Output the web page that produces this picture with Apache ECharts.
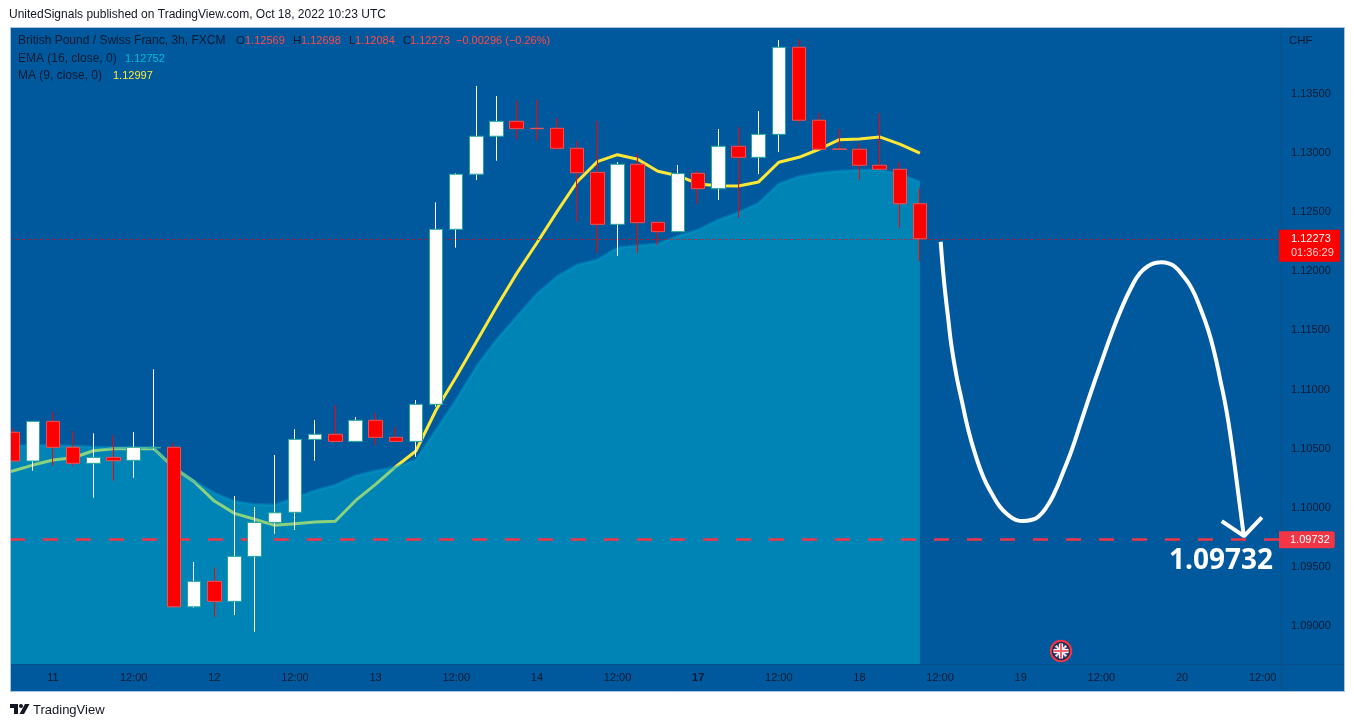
<!DOCTYPE html>
<html><head><meta charset="utf-8">
<style>html,body{margin:0;padding:0;background:#fff}#c{width:1354px;height:727px}</style>
<script src="https://cdn.jsdelivr.net/npm/echarts@6/dist/echarts.min.js"></script>
</head><body><div id="c"></div>
<script>
// ---- data ----
const opens = [1.10639,1.10396,1.10731,1.10512,1.10377,1.10427,1.10402,1.10506,1.10512,1.09165,1.0938,1.09211,1.09591,1.09878,1.09963,1.10579,1.10622,1.10562,1.1074,1.10596,1.10562,1.10875,1.12353,1.12818,1.13139,1.13265,1.13206,1.13206,1.13037,1.12834,1.12395,1.12902,1.12412,1.12333,1.12826,1.12696,1.13054,1.12961,1.13155,1.1389,1.13274,1.13031,1.13029,1.12894,1.1286,1.12569];
const closes = [1.10396,1.10731,1.10512,1.10377,1.10427,1.10399,1.10512,1.10512,1.09165,1.0938,1.09211,1.09591,1.09878,1.09959,1.10579,1.10622,1.10562,1.1074,1.10596,1.10562,1.10875,1.12353,1.12818,1.13139,1.13265,1.13203,1.13203,1.13037,1.12831,1.12395,1.12902,1.12409,1.12333,1.12823,1.12696,1.13054,1.12961,1.13155,1.1389,1.13274,1.13029,1.13029,1.12894,1.1286,1.12569,1.12273];
const lows = [1.10396,1.10314,1.10356,1.10356,1.10086,1.1023,1.10255,1.10489,1.09165,1.09157,1.09079,1.09095,1.08954,1.09782,1.09813,1.10399,1.10551,1.10562,1.10531,1.10562,1.10432,1.10855,1.12198,1.12769,1.12932,1.13116,1.13101,1.13023,1.12417,1.12155,1.12128,1.12155,1.1222,1.12333,1.12569,1.126,1.12451,1.1282,1.13006,1.13248,1.13029,1.13023,1.12772,1.1286,1.12367,1.12084];
const highs = [1.10672,1.10731,1.10812,1.10649,1.1063,1.10613,1.10641,1.11171,1.10546,1.09543,1.09498,1.101,1.10008,1.10447,1.10666,1.10742,1.10867,1.10768,1.10802,1.10681,1.10911,1.12581,1.12826,1.13563,1.13479,1.13437,1.13445,1.13291,1.13099,1.13268,1.12921,1.12989,1.12421,1.12896,1.12845,1.132,1.13217,1.13352,1.13952,1.13958,1.13333,1.13198,1.13079,1.13333,1.12921,1.12698];
const emaValues = [1.1052,1.10523,1.10527,1.10527,1.10523,1.10514,1.1051,1.1051,1.1051,1.10345,1.10227,1.10126,1.10054,1.1003,1.10025,1.10084,1.10145,1.10193,1.10269,1.10312,1.10343,1.10405,1.10658,1.10911,1.11193,1.11418,1.11615,1.11807,1.11953,1.12052,1.12094,1.12198,1.12215,1.12229,1.12296,1.12347,1.12432,1.12493,1.12573,1.12736,1.12797,1.12826,1.12845,1.12851,1.12851,1.1282,1.12752];
const maValues = [1.10286,1.10312,1.10362,1.10405,1.10424,1.10483,1.105,1.105,1.105,1.10337,1.10221,1.10058,1.09954,1.09904,1.09853,1.09867,1.09881,1.09887,1.10061,1.10199,1.10348,1.10481,1.10827,1.11108,1.11404,1.11699,1.11981,1.12237,1.12502,1.12755,1.12924,1.12983,1.12944,1.12843,1.12806,1.12736,1.12721,1.12719,1.12753,1.12919,1.12961,1.13029,1.1311,1.13116,1.13133,1.13073,1.12997];
const forecastCurve = [[46.03,1.12248],[46.13,1.12037],[46.24,1.1184],[46.41,1.11587],[46.57,1.11362],[46.82,1.11108],[47.07,1.10911],[47.4,1.10658],[47.73,1.10461],[48.14,1.10264],[48.56,1.10123],[48.97,1.1001],[49.38,1.0994],[49.75,1.099],[50.13,1.09889],[50.51,1.09898],[50.87,1.09926],[51.29,1.1001],[51.7,1.10137],[52.11,1.10306],[52.53,1.10489],[53.02,1.10742],[53.52,1.10996],[54.01,1.11235],[54.51,1.11474],[55,1.11685],[55.5,1.11868],[55.91,1.11981],[56.33,1.12043],[56.66,1.12068],[56.99,1.12074],[57.32,1.12065],[57.65,1.12037],[58.06,1.11958],[58.48,1.11854],[58.89,1.11694],[59.3,1.11502],[59.62,1.113],[59.9,1.1108],[60.2,1.10827],[60.46,1.10545],[60.63,1.10334],[60.79,1.10123],[61.07,1.09757]];
const forecastArrow = [[59.97,1.09889],[61.08,1.09762],[61.96,1.09921]];
const xTickPositions = [2,6,10,14,18,22,26,30,34,38,42,46,50,54,58,62];
const xTickLabels = ['11','12:00','12','12:00','13','12:00','14','12:00','17','12:00','18','12:00','19','12:00','20','12:00'];
const yTicks = [1.09,1.095,1.10,1.105,1.11,1.115,1.12,1.125,1.13,1.135];
const lastClose = 1.12273, targetPrice = 1.09732;
const xMin = -0.134, xMax = 62.91, yMin = 1.08682, yMax = 1.14053;

// ---- styles ----
const FONT = 'Liberation Sans', DARK = '#101a30', BG = '#00599d';
const candleRows = opens.map((o,i)=>[i,o,closes[i],lows[i],highs[i]]);
const bodyRows = opens.map((o,i)=>[i,o,closes[i],Math.min(o,closes[i]),Math.max(o,closes[i])]);
const txt = (x,y,text,fill,size,extra) => ({type:'text',x,y,z:30,silent:true,style:Object.assign({text,fill,font:(size||12)+'px "'+FONT+'"',textVerticalAlign:'middle'},extra||{})});
const poly = (points,fill)=>({type:'polygon',silent:true,shape:{points},style:{fill}});
const seg = (x1,y1,x2,y2,stroke,lineWidth,z)=>({type:'line',silent:true,z:z==null?21:z,shape:{x1,y1,x2,y2},style:{stroke,lineWidth}});

const flagX=1061, flagY=651;
const flag = [
 {type:'circle',silent:true,z:21,shape:{cx:flagX,cy:flagY,r:10.2},style:{fill:'#1d2a4d',stroke:'#f23645',lineWidth:2}},
 {type:'circle',silent:true,z:21,shape:{cx:flagX,cy:flagY,r:7.5},style:{fill:'#3a4f88'}},
 seg(flagX-5.3,flagY-5.3,flagX+5.3,flagY+5.3,'#f7d5da',2.2), seg(flagX-5.3,flagY+5.3,flagX+5.3,flagY-5.3,'#f7d5da',2.2),
 seg(flagX-7.5,flagY,flagX+7.5,flagY,'#ffffff',4), seg(flagX,flagY-7.5,flagX,flagY+7.5,'#ffffff',4),
 seg(flagX-7.5,flagY,flagX+7.5,flagY,'#f4606f',2), seg(flagX,flagY-7.5,flagX,flagY+7.5,'#f4606f',2)
];

const graphics = [
 {type:'rect',silent:true,z:-10,shape:{x:10.5,y:27.5,width:1334,height:664},style:{fill:BG,stroke:'#a9c3de',lineWidth:1}},
 {type:'rect',silent:true,z:20,shape:{x:0,y:28,width:10,height:664},style:{fill:'#ffffff'}},
 seg(10.5,27.5,10.5,691.5,'#a9c3de',1),
 seg(1281.5,28,1281.5,691,'#0a4f88',1,0), seg(11,664.5,1344,664.5,'#0a4f88',1,0),
 txt(9,15,'UnitedSignals published on TradingView.com, Oct 18, 2022 10:23 UTC','#131722',12),
 txt(18,41,'British Pound / Swiss Franc, 3h, FXCM',DARK,12),
 txt(236,41,'O',DARK,11.5), txt(245,41,'1.12569','#ff4a4a',11),
 txt(293,41,'H',DARK,11.5), txt(301,41,'1.12698','#ff4a4a',11),
 txt(349,41,'L',DARK,11.5), txt(355,41,'1.12084','#ff4a4a',11),
 txt(403,41,'C',DARK,11.5), txt(410,41,'1.12273','#ff4a4a',11),
 txt(456,41,'\u22120.00296 (\u22120.26%)','#ff4a4a',11),
 txt(18,59,'EMA (16, close, 0)',DARK,12), txt(125,59,'1.12752','#00bcd4',11),
 txt(18,76,'MA (9, close, 0)',DARK,12), txt(113,76,'1.12997','#ffeb3b',11),
 txt(1289,41,'CHF',DARK,11.5),
 {type:'text',x:1169,y:561,silent:true,z:30,style:{text:'1.09732',fill:'#ffffff',font:'bold 28px "Open Sans"',textVerticalAlign:'middle'}},
 txt(33,710,'TradingView','#131722',13),
 poly([[10,704],[18,704],[18,714],[14,714],[14,708],[10,708]],'#131722'),
 {type:'circle',silent:true,shape:{cx:21,cy:706,r:2},style:{fill:'#131722'}},
 poly([[25,704],[29.5,704],[24,714],[19.5,714]],'#131722')
].concat(flag);

const option = {
 animation:false, backgroundColor:'#ffffff',
 textStyle:{fontFamily:FONT},
 grid:{left:10,top:28,right:73,bottom:63,show:false},
 graphic:{elements:graphics},
 xAxis:{type:'value',min:xMin,max:xMax,splitLine:{show:false},axisLine:{show:false},axisTick:{show:false},
  axisLabel:{customValues:xTickPositions,color:DARK,fontFamily:FONT,fontSize:11,margin:8,
   formatter:v=>{const s=xTickLabels[xTickPositions.indexOf(v)];return s==='17'?'{b|17}':s;},
   rich:{b:{fontWeight:'bold',fontSize:11,color:DARK,fontFamily:FONT}}}},
 yAxis:{type:'value',position:'right',min:yMin,max:yMax,scale:true,splitLine:{show:false},axisLine:{show:false},axisTick:{show:false},
  axisLabel:{customValues:yTicks,color:DARK,fontFamily:FONT,fontSize:11,margin:10,formatter:v=>v.toFixed(5)}},
 series:[
  {name:'MA',type:'line',z:2,symbol:'none',silent:true,data:maValues.map((v,i)=>[i-1,v]),lineStyle:{color:'#ffe835',width:3}},
  {name:'Target',type:'line',z:2,symbol:'none',silent:true,data:[],
   markLine:{silent:true,symbol:'none',animation:false,precision:5,lineStyle:{color:'#f23645',width:2.5,type:[15,18]},
    label:{position:'end',distance:-1,offset:[-1,0],formatter:targetPrice.toFixed(5),color:'#fff',fontFamily:FONT,fontSize:11,backgroundColor:'#f23645',padding:[3,5,3,11],borderRadius:[0,2,2,0]},
    data:[{yAxis:targetPrice}]}},
  {name:'EMA',type:'line',z:3,symbol:'none',silent:true,data:emaValues.map((v,i)=>[i-1,v]),
   lineStyle:{color:'rgba(0,160,205,0.4)',width:3},areaStyle:{color:'rgba(0,184,213,0.45)',opacity:1,origin:'start'}},
  {name:'Close',type:'line',z:4,symbol:'none',silent:true,data:[],
   markLine:{silent:true,symbol:'none',animation:false,precision:5,lineStyle:{color:'#ff0000',width:1,type:[1,2]},
    label:{position:'end',distance:-1,offset:[-1,7],color:'#fff',fontFamily:FONT,fontSize:11,lineHeight:14,backgroundColor:'#ff0000',padding:[2,6,2,12],
     formatter:'{a|'+lastClose.toFixed(5)+'}\n{b|01:36:29}',rich:{a:{color:'#fff',fontSize:11,lineHeight:14,fontFamily:FONT},b:{color:'#ffd0d0',fontSize:11,lineHeight:14,fontFamily:FONT}}},
    data:[{yAxis:lastClose}]}},
  {name:'Wicks',type:'candlestick',z:5,silent:true,barWidth:0,encode:{x:0,y:[1,2,3,4]},data:candleRows,
   itemStyle:{color:'#ffffff',color0:'#ff0000',borderColor:'#ffffff',borderColor0:'#ff0000',borderWidth:1}},
  {name:'Bodies',type:'candlestick',z:6,silent:true,barWidth:14,encode:{x:0,y:[1,2,3,4]},data:bodyRows,
   itemStyle:{color:'#ffffff',color0:'#ff0000',borderColor:'#26a69a',borderColor0:'#f5504f',borderWidth:1}},
  {name:'Forecast',type:'line',z:7,symbol:'none',silent:true,smooth:0.5,data:forecastCurve,lineStyle:{color:'#ffffff',width:4}},
  {name:'Arrow',type:'line',z:7,symbol:'none',silent:true,data:forecastArrow,lineStyle:{color:'#ffffff',width:4}}
 ]
};
const chart = echarts.init(document.getElementById('c'),null,{renderer:'canvas'});
chart.setOption(option);
</script></body></html>
